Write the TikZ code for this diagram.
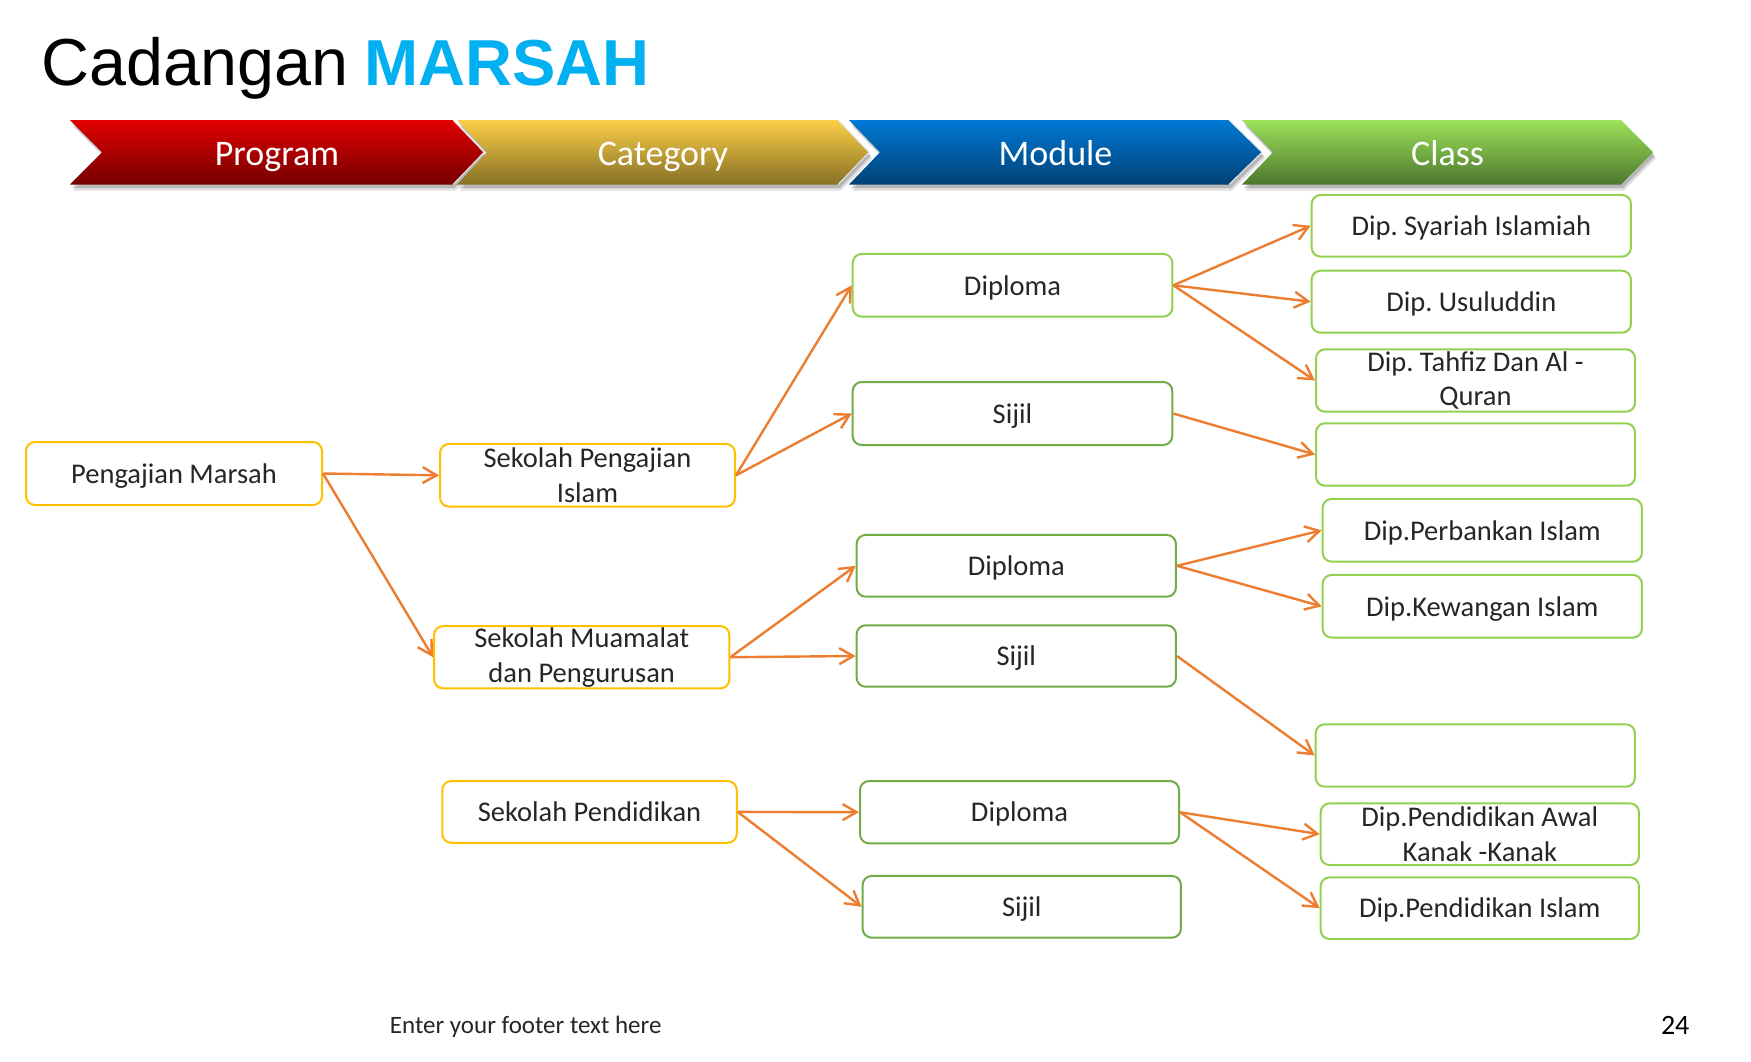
\documentclass[tikz,border=0pt]{standalone}
\usepackage{fontspec}
\setmainfont{Carlito}
\newfontfamily\arialfont{Liberation Sans}
\usetikzlibrary{arrows.meta,shadings}
\definecolor{ylw}{HTML}{FFC000}
\definecolor{lgreen}{HTML}{92D050}
\definecolor{dgreen}{HTML}{70AD47}
\definecolor{arrc}{HTML}{ED7D31}
\definecolor{mblue}{HTML}{00B0F0}
\definecolor{txtc}{HTML}{262626}
\definecolor{redA}{HTML}{E20000}
\definecolor{redB}{HTML}{740000}
\definecolor{yelA}{HTML}{FBCF47}
\definecolor{yelB}{HTML}{877026}
\definecolor{bluA}{HTML}{0079D6}
\definecolor{bluB}{HTML}{004175}
\definecolor{grnA}{HTML}{9CE25A}
\definecolor{grnB}{HTML}{4D772D}
\newcommand\bxfont{\fontsize{28.5pt}{34.8pt}\selectfont}
\newcommand\chfont{\fontsize{36pt}{43pt}\selectfont}
\frenchspacing
\begin{document}
\begin{tikzpicture}[x=1pt,y=-1pt,
  chev/.style n args={4}{insert path={(#1,120) -- (#2,120) -- (#3,152.25) -- (#2,184.5) -- (#1,184.5) -- (#4,152.25) -- cycle}},
  chlabel/.style={text=white, font=\chfont, inner sep=0pt, text height=34.6pt, text depth=9pt},
  bx/.style={draw, line width=2pt, rounded corners=9pt, fill=white, inner sep=0pt, align=center, font=\bxfont, text=txtc},
  one/.style={text height=26.5pt, text depth=7.1pt},
  ybox/.style={bx, draw=ylw},
  gbox/.style={bx, draw=lgreen},
  dbox/.style={bx, draw=dgreen},
  sz/.style 2 args={minimum width=#1pt, minimum height=#2pt},
  arr/.style={draw=arrc, line width=2.4pt, -{Straight Barb[length=14pt,width=16pt]}}
]
\useasboundingbox (0,0) rectangle (1751,1061);
\fill[white] (0,0) rectangle (1751,1061);

% title
\node[anchor=base west, inner sep=0pt, text=black] (title) at (41,85)
  {\arialfont\fontsize{66.5pt}{78pt}\selectfont Cadangan};
\node[anchor=base west, inner sep=0pt, text=mblue] (title2) at (364,85)
  {\arialfont\bfseries\fontsize{65pt}{78pt}\selectfont MARSAH};

% chevrons: shadows
\foreach \l/\r/\t/\n in {70/453/484/102, 457/838/869/487, 849/1229/1262/880, 1242/1621/1653/1273}{
  \fill[black, opacity=0.12, shift={(3,6)}, chev={\l}{\r}{\t}{\n}];
  \fill[black, opacity=0.18, shift={(2,3.5)}, chev={\l}{\r}{\t}{\n}];
}
\shade[top color=redA, bottom color=redB, chev={70}{453}{484}{102}];
\draw[white!80!gray, line width=1pt] (453,120) -- (484,152.25) -- (453,184.5);
\shade[top color=yelA, bottom color=yelB, chev={457}{838}{869}{487}];
\draw[white!80!gray, line width=1pt] (838,120) -- (869,152.25) -- (838,184.5);
\shade[top color=bluA, bottom color=bluB, chev={849}{1229}{1262}{880}];
\draw[white!80!gray, line width=1pt] (1229,120) -- (1262,152.25) -- (1229,184.5);
\shade[top color=grnA, bottom color=grnB, chev={1242}{1621}{1653}{1273}];
\node[chlabel] (hProg) at (277,152.5) {Program};
\node[chlabel] (hCat) at (663,152.5) {Category};
\node[chlabel] (hMod) at (1055.5,152.5) {Module};
\node[chlabel] (hCls) at (1447.5,152.5) {Class};

% program
\node[ybox, one, sz={296}{63}] (P1) at (174,473.5) {Pengajian Marsah};
% category
\node[ybox, sz={295}{62.7}] (C1) at (587.5,475.3) {Sekolah Pengajian\\Islam};
\node[ybox, sz={295.3}{62.3}] (C2) at (581.7,657.2) {Sekolah Muamalat\\dan Pengurusan};
\node[ybox, one, sz={294.5}{61.7}] (C3) at (589.5,811.9) {Sekolah Pendidikan};
% module
\node[gbox, one, sz={319.6}{62.7}] (M1) at (1012.5,285.3) {Diploma};
\node[dbox, one, sz={319.6}{63}] (M2) at (1012.5,413.5) {Sijil};
\node[dbox, one, sz={319.3}{61.7}] (M3) at (1016.3,565.8) {Diploma};
\node[dbox, one, sz={319.3}{61.4}] (M4) at (1016.3,656) {Sijil};
\node[dbox, one, sz={319}{62.3}] (M5) at (1019.5,812.2) {Diploma};
\node[dbox, one, sz={318.3}{61.7}] (M6) at (1021.8,906.8) {Sijil};
% class
\node[gbox, one, sz={319.3}{61.7}] (K1) at (1471.3,225.8) {Dip. Syariah Islamiah};
\node[gbox, one, sz={319.3}{62}] (K2) at (1471.3,301.7) {Dip. Usuluddin};
\node[gbox, sz={319}{62.4}] (K3) at (1475.5,380.5) {Dip. Tahfiz Dan Al -\\Quran};
\node[gbox, sz={319}{62.4}] (K4) at (1475.5,454.5) {};
\node[gbox, one, sz={319.3}{62.7}] (K5) at (1482.3,530.3) {Dip.Perbankan Islam};
\node[gbox, one, sz={319.3}{62.7}] (K6) at (1482.3,606.3) {Dip.Kewangan Islam};
\node[gbox, sz={319.3}{62.4}] (K7) at (1475.3,755.5) {};
\node[gbox, sz={318.3}{61.7}] (K8) at (1479.8,834.2) {Dip.Pendidikan Awal\\Kanak -Kanak};
\node[gbox, one, sz={318.3}{61.7}] (K9) at (1479.8,908.2) {Dip.Pendidikan Islam};

% connectors
\draw[arr] (P1.east) -- (C1.west);
\draw[arr] (P1.east) -- (C2.west);
\draw[arr] (C1.east) -- (M1.west);
\draw[arr] (C1.east) -- (M2.west);
\draw[arr] (C2.east) -- (M3.west);
\draw[arr] (C2.east) -- (M4.west);
\draw[arr] (C3.east) -- (M5.west);
\draw[arr] (C3.east) -- (M6.west);
\draw[arr] (M1.east) -- (K1.west);
\draw[arr] (M1.east) -- (K2.west);
\draw[arr] (M1.east) -- (K3.west);
\draw[arr] (M2.east) -- (K4.west);
\draw[arr] (M3.east) -- (K5.west);
\draw[arr] (M3.east) -- (K6.west);
\draw[arr] (M4.east) -- (K7.west);
\draw[arr] (M5.east) -- (K8.west);
\draw[arr] (M5.east) -- (K9.west);

% footer
\node[anchor=base west, inner sep=0pt, text=black!85, font=\fontsize{25pt}{30pt}\selectfont] (foot) at (389.7,1033) {Enter your footer text here};
\node[anchor=base east, inner sep=0pt, text=black, font=\fontsize{28pt}{33pt}\selectfont] (pg) at (1689.6,1034) {24};
\end{tikzpicture}
\end{document}
